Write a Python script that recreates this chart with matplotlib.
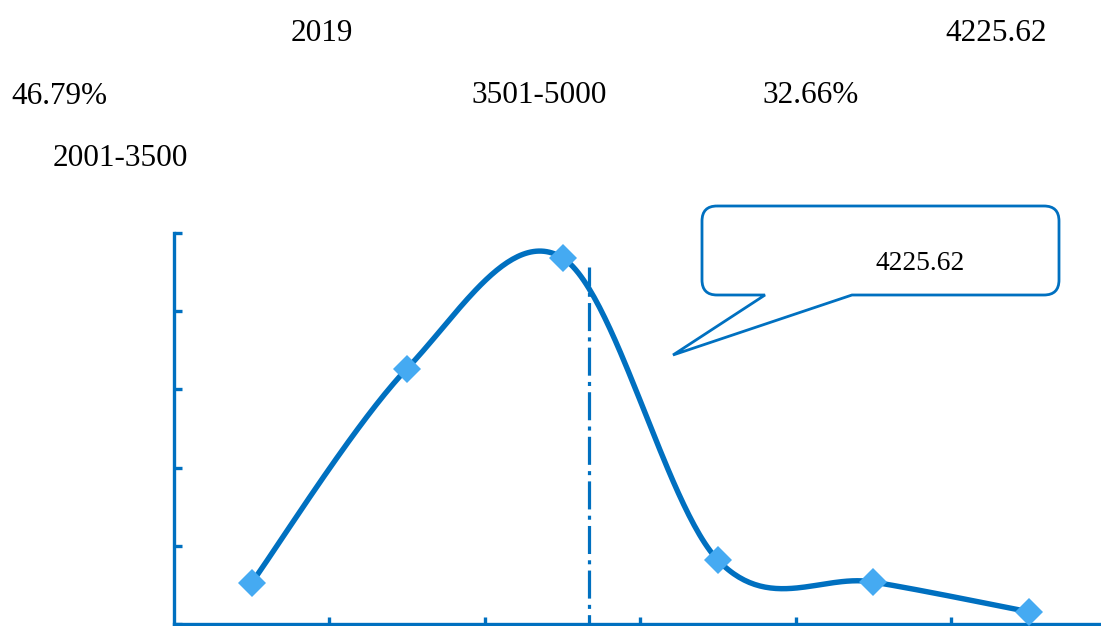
import numpy as np
import matplotlib
matplotlib.use("Agg")
import matplotlib.pyplot as plt
from matplotlib.path import Path
from matplotlib.patches import PathPatch

# ---- data ----
categories = ["≤2000", "2001-3500", "3501-5000", "5001-6500", "6501-8000", ">8000"]
shares = [5.3, 32.66, 46.79, 8.2, 5.4, 1.6]          # percent
mean_pos = 2.17                                       # position of the mean marker line
mean_label = "4225.62"
header_texts = [
    ("2019", 322, 41, "center"),
    ("4225.62", 996, 41, "center"),
    ("46.79%", 11, 104, "left"),
    ("3501-5000", 539, 103, "center"),
    ("32.66%", 811, 103, "center"),
    ("2001-3500", 120, 166, "center"),
]

W, H = 1101, 626
BLUE = "#0070C0"
MARK = "#45AAF2"

plt.rcParams["font.family"] = ["Liberation Serif", "DejaVu Serif"]
plt.rcParams["lines.scale_dashes"] = False

fig = plt.figure(figsize=(W / 100, H / 100), dpi=100)
fig.patch.set_facecolor("white")

def fx(x):
    return x / W

def fy(y):
    return 1 - y / H

ax = fig.add_axes([fx(174), fy(624.3), 932.4 / W, (624.3 - 232.7) / H])
ax.set_xlim(-0.5, 5.5)
ax.set_ylim(0, 50)

# smooth (Catmull-Rom / Excel-like) curve through the points
xs = np.arange(len(shares), dtype=float)
ys = np.array(shares, dtype=float)
P = np.column_stack([xs, ys])
Pp = np.vstack([P[0], P, P[-1]])
t = np.linspace(0, 1, 60)[:, None]
curve = []
for i in range(len(P) - 1):
    p0, p1, p2, p3 = Pp[i], Pp[i + 1], Pp[i + 2], Pp[i + 3]
    c1 = p1 + (p2 - p0) / 6.0
    c2 = p2 - (p3 - p1) / 6.0
    seg = ((1 - t) ** 3) * p1 + 3 * ((1 - t) ** 2) * t * c1 + 3 * (1 - t) * t ** 2 * c2 + t ** 3 * p2
    curve.append(seg if i == 0 else seg[1:])
curve = np.vstack(curve)

ax.plot(curve[:, 0], curve[:, 1], color=BLUE, lw=3.9, solid_capstyle="round", zorder=3, clip_on=False)
ax.plot(xs, ys, linestyle="none", marker="D", markersize=14, color=MARK,
        markeredgewidth=0, zorder=4, clip_on=False)

# mean dash-dot line
ax.plot([mean_pos, mean_pos], [45.6, 0], color=BLUE, lw=2.3,
        linestyle=(6.5, (20.2, 4.5, 2.9, 4.5)), zorder=2, clip_on=False)

# axes styling
for s in ["top", "right"]:
    ax.spines[s].set_visible(False)
for s in ["left", "bottom"]:
    ax.spines[s].set_color(BLUE)
    ax.spines[s].set_linewidth(2.4)
ax.set_yticks(np.arange(0, 51, 10))
ax.set_xticks(np.arange(0.5, 5.0, 1.0))
ax.tick_params(axis="both", direction="in", color=BLUE, width=2.4,
               labelleft=False, labelbottom=False)
ax.tick_params(axis="y", length=6)
ax.tick_params(axis="x", length=5)

# header texts
for txt, x, y, ha in header_texts:
    fig.text(fx(x), fy(y), txt, ha=ha, va="baseline", fontsize=22.5, color="black")

# callout box
L, R, T, B, r = 702, 1059, 206, 295, 15
tip = (673, 355)
b1, b2 = 765, 852
verts = [
    (L + r, T), (R - r, T), (R, T), (R, T + r), (R, B - r), (R, B), (R - r, B),
    (b2, B), tip, (b1, B), (L + r, B), (L, B), (L, B - r), (L, T + r), (L, T), (L + r, T),
]
codes = [Path.MOVETO, Path.LINETO, Path.CURVE3, Path.CURVE3, Path.LINETO, Path.CURVE3, Path.CURVE3,
         Path.LINETO, Path.LINETO, Path.LINETO, Path.LINETO, Path.CURVE3, Path.CURVE3, Path.LINETO,
         Path.CURVE3, Path.CURVE3]
verts = [(fx(x), fy(y)) for x, y in verts]
patch = PathPatch(Path(verts, codes), transform=fig.transFigure, facecolor="white",
                  edgecolor=BLUE, lw=2.0, joinstyle="miter", zorder=5)
fig.patches.append(patch)
fig.text(fx(920.5), fy(270), mean_label, ha="center", va="baseline", fontsize=19.8, color="black", zorder=6)

fig.savefig("out.png", dpi=100)
